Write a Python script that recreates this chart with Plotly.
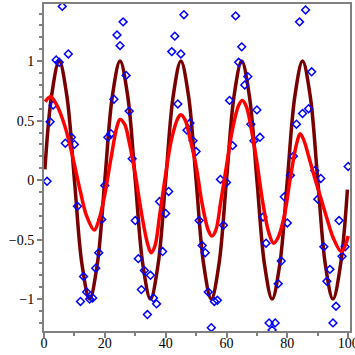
import plotly.graph_objects as go

# noisy observations (x = 1..100)
pts_x = list(range(1, 101))
pts_y = [-0.01, 0.49, 0.63, 1.01, 0.99, 1.46, 0.31, 1.06, 0.36, 0.30,
         -0.22, -1.02, -0.81, -0.94, -1.00, -0.99, -0.74, -0.61, -0.33, -0.045,
         0.36, 0.39, 0.68, 1.22, 1.13, 1.33, 0.88, 0.58, 0.18, -0.34,
         -0.66, -0.92, -0.76, -1.13, -0.80, -0.99, -1.04, -0.18, -0.60, -0.28,
         -0.095, 1.08, 1.21, 0.64, 1.06, 1.39, 0.42, 0.48, 0.33, 0.24,
         -0.34, -0.55, -0.61, -0.94, -1.24, -1.02, -1.01, 0.006, -0.38, -0.02,
         0.67, 0.29, 1.38, 0.99, 1.12, 0.80, 0.87, 0.47, 0.33, 0.59,
         0.36, -0.31, -0.53, -1.20, -1.26, -1.20, -0.87, -0.68, -0.14, -0.36,
         0.04, 0.20, 0.47, 1.33, 0.56, 1.43, 0.60, 0.91, 0.08, -0.16,
         0.014, -0.56, -0.85, -0.75, -1.20, -1.06, -0.34, -0.64, -0.56, 0.115]

# true curve (knots)
true_x = [0.3, 2.5, 5, 7.5, 10, 12.5, 15, 17.5, 20, 22.5, 25, 27.5, 30, 32.5, 35, 37.5,
          40, 42.5, 45, 47.5, 50, 52.5, 55, 57.5, 60, 62.5, 65, 67.5, 70, 72.5, 75, 77.5,
          80, 82.5, 85, 87.5, 90, 92.5, 95, 97.5, 99.75]
true_y = [0.09, 0.71, 1, 0.71, 0, -0.71, -1, -0.71, 0, 0.71, 1, 0.71, 0, -0.71, -1, -0.71,
          0, 0.71, 1, 0.71, 0, -0.71, -1, -0.71, 0, 0.71, 1, 0.71, 0, -0.71, -1, -0.71,
          0, 0.71, 1, 0.71, 0, -0.71, -1, -0.71, -0.08]

# smoothed fit
fit_x = [0.4, 2.2, 4, 6, 8, 10, 12, 14, 16.5, 18, 20, 22, 24, 25, 26.5, 28, 30, 32, 34, 35.2,
         36.5, 38, 40, 42, 44, 45, 46.5, 48, 50, 52, 54, 55.2, 56.5, 58, 60, 62, 64, 65.2,
         66.5, 68, 70, 72, 74, 75.5, 77, 79, 81, 83, 84.2, 85.5, 87, 89, 91, 93, 95, 97.7,
         99, 100]
fit_y = [0.66, 0.70, 0.64, 0.52, 0.35, 0.13, -0.10, -0.30, -0.42, -0.34, -0.12, 0.18, 0.45,
         0.51, 0.47, 0.32, 0.05, -0.27, -0.53, -0.61, -0.55, -0.30, 0.05, 0.35, 0.52, 0.55,
         0.50, 0.35, 0.12, -0.20, -0.42, -0.47, -0.42, -0.20, 0.12, 0.43, 0.63, 0.67, 0.62,
         0.45, 0.15, -0.20, -0.45, -0.53, -0.48, -0.30, 0.02, 0.30, 0.39, 0.33, 0.20, 0.02,
         -0.15, -0.32, -0.48, -0.60, -0.55, -0.47]

x_ticks = [0, 20, 40, 60, 80, 100]
y_ticks = [-1, -0.5, 0, 0.5, 1]
y_text = ["\u22121", "\u22120.5", "0", "0.5", "1"]

fig = go.Figure()
fig.add_trace(go.Scatter(x=true_x, y=true_y, mode="lines",
                         line=dict(color="#780000", width=3.5, shape="spline", smoothing=1.0)))
fig.add_trace(go.Scatter(x=pts_x, y=pts_y, mode="markers",
                         marker=dict(symbol="diamond-open", size=6, color="#0000ff",
                                     line=dict(width=1.5, color="#0000ff"))))
fig.add_trace(go.Scatter(x=fit_x, y=fit_y, mode="lines",
                         line=dict(color="#ff0000", width=3.5, shape="spline", smoothing=1.0)))

axis_common = dict(showgrid=False, zeroline=False, showline=True, linecolor="#808080",
                   linewidth=2, mirror=True, ticks="outside", ticklen=5, tickwidth=1.5,
                   tickcolor="#808080", automargin=False, ticklabeloverflow="allow",
                   tickfont=dict(family="Liberation Serif", size=14, color="#000000"))

fig.update_layout(
    width=355, height=355,
    margin=dict(l=44, r=5, t=4, b=24),
    plot_bgcolor="white", paper_bgcolor="white",
    showlegend=False,
    xaxis=dict(range=[0, 100.6], tickvals=x_ticks, ticklabelstandoff=-7,
               minor=dict(tickvals=[10, 30, 50, 70, 90], ticks="outside", ticklen=3,
                          tickwidth=1.5, tickcolor="#808080"),
               **axis_common),
    yaxis=dict(range=[-1.268, 1.48], tickvals=y_ticks, ticktext=y_text,
               minor=dict(tickvals=[-1.2, -1.1, -0.9, -0.8, -0.7, -0.6, -0.4, -0.3, -0.2, -0.1,
                                    0.1, 0.2, 0.3, 0.4, 0.6, 0.7, 0.8, 0.9, 1.1, 1.2, 1.3, 1.4],
                          ticks="outside", ticklen=3, tickwidth=1.5, tickcolor="#808080"),
               **axis_common),
)
fig.add_annotation(text="x", xref="paper", yref="paper", x=0.5, y=-0.062,
                   xanchor="center", yanchor="top", showarrow=False,
                   font=dict(family="Liberation Serif", size=14, color="#000000"))

fig.write_html("out.html", config={"displayModeBar": False},
               post_script="document.body.style.margin='0';document.body.style.overflow='hidden';")
